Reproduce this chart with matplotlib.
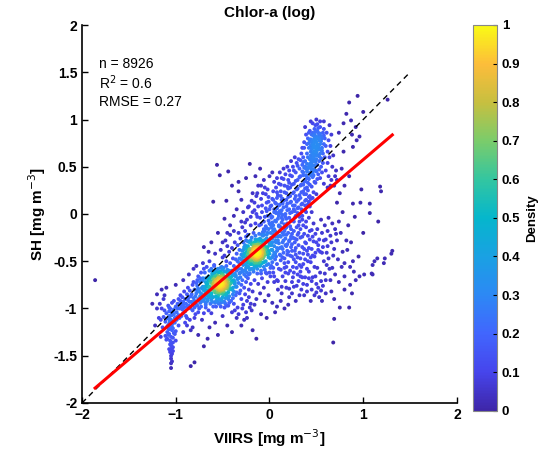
import numpy as np
import matplotlib
matplotlib.use('Agg')
import matplotlib.pyplot as plt
from matplotlib.colors import LinearSegmentedColormap
from matplotlib.ticker import FixedLocator, FixedFormatter

plt.rcParams['font.family'] = ['Liberation Sans', 'DejaVu Sans']

# --- matchups (hundredths of log10 mg m-3: VIIRS, SH) ---
streak = [(-107,-108),(-105,-112),(-110,-105),(-103,-115),(-108,-118),(-101,-110),(-112,-102),(-104,-120),(-106,-100),(-109,-125),
          (-102,-106),(-100,-98),(-111,-114),(-105,-130),(-107,-122),(-103,-103),(-98,-95),(-113,-109),(-106,-134),(-104,-117),
          (-108,-128),(-102,-92),(-105,-139),(-110,-111),(-107,-143),(-103,-121),(-99,-104),(-106,-146),(-104,-107),(-109,-119),
          (-101,-127),(-105,-150),(-108,-97),(-103,-136),(-106,-113),(-100,-124),(-111,-129),(-104,-141),(-107,-116),(-102,-101),
          (-105,-153),(-109,-132),(-106,-108),(-103,-145),(-108,-110),(-104,-156),(-107,-99),(-105,-137),(-102,-126),(-106,-118),
          (-110,-133),(-104,-148),(-107,-103),(-103,-141),(-105,-158),(-108,-121),(-106,-113),(-104,-105),(-105,-163),(-107,-127),
          (-103,-131),(-106,-115),(-104,-94),(-105,-144),(-106,-138),(-104,-123),(-97,-90),(-95,-86),(-96,-100),(-113,-90),
          (-115,-100),(-116,-112),(-114,-120),(-99,-112),(-97,-118),(-100,-134),(-117,-95),(-112,-86),(-94,-108),(-92,-96)]

lower_band = [(-98,-100),(-95,-96),(-92,-105),(-90,-90),(-88,-98),(-86,-88),(-85,-93),(-83,-85),(-82,-102),(-80,-80),
              (-79,-95),(-78,-84),(-77,-76),(-76,-90),(-75,-82),(-74,-72),(-73,-88),(-72,-79),(-71,-70),(-70,-92),
              (-69,-77),(-68,-68),(-67,-85),(-66,-74),(-65,-66),(-64,-80),(-63,-71),(-62,-88),(-61,-64),(-60,-76),
              (-96,-110),(-93,-88),(-91,-82),(-89,-108),(-87,-78),(-84,-100),(-81,-72),(-80,-92),(-78,-96),(-76,-66),
              (-74,-94),(-73,-62),(-71,-86),(-70,-58),(-68,-99),(-67,-73),(-66,-90),(-64,-60),(-63,-95),(-62,-84),
              (-95,-92),(-90,-115),(-85,-112),(-82,-75),(-79,-106),(-77,-70),(-75,-100),(-72,-78),(-69,-62),(-66,-83),
              (-88,-118),(-84,-123),(-80,-110),(-76,-104),(-73,-98),(-70,-105),(-68,-96),(-65,-102),(-62,-91),(-60,-98),
              (-92,-70),(-86,-64),(-81,-58),(-78,-55),(-74,-68),(-71,-52),(-67,-56),(-64,-50),(-61,-60),(-59,-54)]

core_a = [(-53,-73),(-51,-75),(-55,-71),(-50,-70),(-56,-76),(-52,-78),(-49,-73),(-54,-68),(-57,-72),(-48,-77),
          (-53,-80),(-51,-67),(-58,-78),(-47,-71),(-55,-82),(-50,-64),(-60,-74),(-46,-75),(-54,-85),(-52,-62),
          (-59,-69),(-45,-79),(-56,-65),(-49,-82),(-61,-80),(-44,-70),(-57,-87),(-48,-66),(-62,-73),(-43,-76),
          (-53,-90),(-50,-59),(-63,-84),(-42,-68),(-58,-61),(-46,-86),(-64,-77),(-41,-73),(-55,-58),(-47,-89),
          (-65,-70),(-40,-64),(-60,-88),(-44,-83),(-66,-82),(-39,-78),(-52,-94),(-51,-56),(-67,-75),(-38,-70),
          (-54,-74),(-52,-72),(-50,-76),(-56,-74),(-51,-79),(-53,-69),(-49,-71),(-55,-77),(-52,-81),(-48,-74),
          (-57,-70),(-50,-80),(-54,-66),(-46,-78),(-58,-75),(-51,-63),(-47,-68),(-56,-83),(-53,-77),(-49,-85),
          (-59,-81),(-45,-72),(-55,-62),(-50,-88),(-61,-67),(-43,-80),(-57,-92),(-48,-61),(-62,-86),(-44,-66),
          (-69,-79),(-70,-86),(-68,-72),(-71,-68),(-72,-90),(-66,-92),(-37,-74),(-36,-66),(-38,-82),(-35,-60),
          (-53,-75),(-52,-74),(-54,-72),(-51,-73),(-55,-75),(-50,-74),(-53,-71),(-52,-76),(-54,-77),(-51,-70),
          (-56,-72),(-49,-76),(-53,-78),(-55,-68),(-50,-72),(-57,-76),(-48,-72),(-54,-80),(-52,-67),(-56,-79),
          (-47,-74),(-59,-72),(-51,-84),(-46,-69),(-58,-66),(-60,-77),(-45,-76),(-49,-66),(-55,-87),(-63,-79),
          (-42,-74),(-61,-63),(-47,-84),(-64,-88),(-41,-67),(-58,-94),(-45,-62),(-66,-68),(-40,-80),(-52,-98),
          (-62,-58),(-44,-90),(-67,-86),(-39,-71),(-59,-55),(-43,-60),(-68,-94),(-48,-93),(-57,-98),(-46,-97)]

core_a_inner = [(-52,-74),(-53,-74),(-51,-74),(-52,-73),(-52,-75),(-50,-73),(-54,-75),(-51,-72),(-53,-76),(-49,-74),
                (-55,-74),(-52,-71),(-52,-77),(-50,-76),(-54,-72),(-48,-73),(-56,-75),(-51,-78),(-53,-70),(-49,-71),
                (-55,-77),(-47,-75),(-57,-73),(-50,-79),(-54,-69),(-48,-70),(-56,-78),(-46,-72),(-58,-76),(-51,-69),
                (-53,-79),(-47,-78),(-57,-70),(-49,-80),(-55,-68),(-45,-74),(-59,-74),(-52,-81),(-52,-67),(-46,-77),
                (-58,-71),(-50,-68),(-54,-80),(-48,-79),(-56,-69),(-44,-73),(-60,-77),(-51,-65),(-53,-83),(-47,-67)]

halo_a = [(-79,-87),(-77,-81),(-75,-91),(-73,-84),(-71,-77),(-69,-89),(-67,-81),(-65,-87),(-63,-67),(-61,-93),
          (-59,-63),(-57,-59),(-55,-93),(-53,-61),(-51,-91),(-49,-57),(-47,-95),(-45,-59),(-43,-87),(-41,-61),
          (-39,-89),(-37,-63),(-35,-83),(-33,-73),(-31,-81),(-29,-61),(-78,-73),(-76,-79),(-74,-87),(-72,-71),
          (-70,-81),(-68,-83),(-66,-77),(-64,-69),(-62,-79),(-60,-69),(-58,-83),(-56,-89),(-54,-95),(-52,-57),
          (-50,-93),(-48,-99),(-46,-55),(-44,-97),(-42,-79),(-40,-71),(-38,-65),(-36,-77),(-34,-69),(-32,-63),
          (-81,-89),(-83,-93),(-85,-81),(-87,-91),(-89,-95),(-91,-99),(-93,-101),(-97,-107),(-99,-109),(-101,-115),
          (-84,-87),(-86,-97),(-88,-85),(-90,-103),(-92,-93),(-94,-99),(-80,-99),(-82,-95),(-77,-97),(-73,-93)]

mid_band = [(-40,-60),(-38,-55),(-36,-65),(-34,-50),(-33,-58),(-31,-62),(-30,-48),(-29,-70),(-28,-54),(-27,-45),
            (-26,-60),(-25,-66),(-24,-50),(-23,-42),(-22,-57),(-21,-63),(-20,-47),(-19,-53),(-18,-40),(-17,-58),
            (-42,-52),(-39,-47),(-37,-72),(-35,-42),(-33,-68),(-32,-38),(-30,-75),(-29,-44),(-27,-78),(-26,-36),
            (-25,-72),(-23,-34),(-22,-80),(-21,-38),(-20,-74),(-19,-32),(-18,-82),(-17,-46),(-16,-70),(-15,-52),
            (-44,-88),(-41,-92),(-38,-95),(-36,-86),(-34,-99),(-32,-84),(-30,-90),(-28,-96),(-26,-85),(-24,-92),
            (-22,-88),(-20,-95),(-37,-102),(-33,-106),(-29,-100),(-25,-104),(-21,-99),(-35,-110),(-27,-112),(-40,-104),
            (-46,-50),(-48,-44),(-43,-40),(-45,-34),(-40,-36),(-37,-30),(-34,-33),(-31,-26),(-28,-30),(-25,-24),
            (-50,-46),(-52,-38),(-47,-28),(-42,-22),(-38,-18),(-33,-20),(-29,-14),(-26,-18),(-23,-22),(-20,-12),
            (-36,-48),(-32,-52),(-28,-60),(-24,-56),(-31,-67),(-27,-64),(-23,-68),(-35,-77),(-39,-85),(-43,-94)]

core_b = [(-13,-41),(-12,-43),(-14,-39),(-11,-40),(-15,-44),(-13,-37),(-10,-42),(-16,-41),(-12,-46),(-14,-35),
          (-11,-36),(-9,-44),(-17,-38),(-13,-48),(-15,-33),(-8,-40),(-18,-45),(-10,-50),(-16,-30),(-7,-36),
          (-19,-42),(-12,-52),(-14,-29),(-6,-45),(-20,-48),(-9,-32),(-17,-53),(-5,-38),(-21,-37),(-11,-28),
          (-13,-41),(-12,-39),(-14,-42),(-11,-44),(-15,-40),(-10,-38),(-13,-45),(-16,-37),(-12,-35),(-14,-47),
          (-9,-41),(-17,-43),(-11,-48),(-15,-35),(-8,-43),(-18,-40),(-10,-34),(-16,-48),(-7,-39),(-19,-46),
          (-12,-31),(-14,-51),(-6,-42),(-20,-41),(-9,-47),(-17,-33),(-5,-34),(-21,-50),(-11,-54),(-15,-27),
          (-4,-30),(-22,-44),(-8,-52),(-18,-31),(-3,-41),(-23,-55),(-10,-26),(-16,-56),(-2,-35),(-24,-38),
          (-7,-28),(-19,-58),(-1,-46),(-25,-49),(-6,-22),(-20,-28),(0,-32),(-26,-60),(-4,-50),(-13,-58),
          (1,-26),(-2,-20),(3,-30),(2,-38),(-1,-16),(4,-22),(5,-34),(0,-42),(6,-18),(-3,-26),
          (7,-28),(2,-14),(-5,-18),(8,-36),(3,-46),(-8,-22),(9,-24),(-9,-60),(-6,-56),(-3,-54),
          (-27,-42),(-29,-52),(-23,-47),(-26,-33),(-24,-62),(-28,-38),(-22,-64),(-30,-58),(-21,-30),(-25,-28),
          (-13,-42),(-12,-40),(-14,-40),(-12,-42),(-13,-39),(-11,-41),(-15,-42),(-13,-44),(-12,-38),(-14,-44),
          (-10,-40),(-16,-39),(-11,-45),(-15,-37),(-13,-36),(-11,-37),(-16,-44),(-9,-38),(-17,-40),(-14,-46)]

core_b_inner = [(-13,-41),(-12,-41),(-14,-41),(-13,-40),(-13,-42),(-11,-42),(-15,-40),(-12,-39),(-14,-43),(-10,-41),
                (-16,-41),(-13,-38),(-13,-44),(-11,-39),(-15,-43),(-9,-40),(-17,-42),(-12,-45),(-14,-37),(-10,-44),
                (-16,-38),(-8,-42),(-18,-40),(-11,-36),(-15,-46),(-9,-37),(-17,-45),(-12,-35),(-14,-47),(-7,-39),
                (-19,-43),(-10,-47),(-16,-35),(-8,-45),(-18,-37),(-13,-49),(-13,-33),(-6,-41),(-20,-41),(-11,-33)]

halo_b = [(-27,-49),(-25,-41),(-23,-51),(-21,-45),(-19,-49),(-17,-35),(-15,-49),(-13,-33),(-11,-51),(-9,-35),
          (-7,-47),(-5,-43),(-3,-37),(-1,-39),(1,-33),(-26,-53),(-24,-45),(-22,-39),(-20,-53),(-18,-37),
          (-16,-51),(-14,-55),(-12,-27),(-10,-55),(-8,-29),(-6,-51),(-4,-27),(-2,-43),(0,-29),(2,-25),
          (-28,-45),(-30,-43),(-32,-47),(-25,-57),(-21,-59),(-17,-61),(-13,-63),(-9,-63),(-5,-59),(-1,-53),
          (-19,-25),(-15,-23),(-11,-21),(-7,-19),(-3,-15),(1,-11),(4,-17),(-23,-29),(-27,-35),(-29,-39)]

upper_band = [(0,-10),(2,-4),(4,-12),(5,2),(7,-8),(8,6),(10,-2),(11,10),(12,-14),(13,4),
              (14,-6),(15,14),(16,-18),(17,0),(18,8),(19,-10),(20,18),(21,-4),(22,12),(23,-16),
              (24,2),(25,22),(26,-8),(27,16),(28,-2),(29,26),(30,6),(31,-12),(32,20),(33,30),
              (34,10),(35,-6),(36,24),(37,34),(38,14),(39,2),(40,28),(41,38),(42,18),(43,8),
              (-2,-2),(-4,6),(-6,-8),(-3,12),(-1,18),(1,8),(3,16),(4,24),(6,12),(7,28),
              (9,20),(10,32),(12,24),(13,38),(14,16),(16,30),(17,42),(18,22),(20,36),(21,46),
              (22,28),(24,40),(25,50),(26,32),(28,44),(29,54),(30,36),(32,48),(33,40),(35,52),
              (36,44),(38,56),(39,48),(41,60),(42,50),(44,62),(45,54),(46,44),(47,66),(48,58),
              (1,-20),(3,-26),(5,-16),(6,-24),(8,-20),(9,-28),(11,-18),(12,-24),(14,-30),(15,-22),
              (17,-26),(18,-34),(20,-20),(21,-28),(23,-24),(24,-32),(26,-18),(27,-26),(29,-14),(30,-22),
              (32,-8),(33,-16),(35,-2),(36,-12),(38,4),(39,-8),(41,10),(42,-4),(44,16),(45,2),
              (-8,2),(-10,-4),(-12,8),(-9,16),(-7,22),(-5,28),(-11,-12),(-14,0),(-6,-16),(-3,-22),
              (31,58),(34,64),(27,60),(37,70),(23,56),(19,50),(15,48),(11,44),(8,38),(5,34),
              (-2,26),(-6,36),(0,40),(3,44),(-9,30),(-13,22),(-16,12),(-18,2),(-15,-10),(-17,-20),
              (-1,-7),(1,-1),(3,-9),(5,5),(7,1),(9,-5),(11,3),(13,-9),(15,7),(17,-3),(19,11),(21,5),(23,-7),(25,9),(27,3),
              (29,13),(31,7),(33,17),(35,11),(37,21),(39,15),(41,25),(43,19),(45,29),(47,23),(2,9),(4,15),(6,3),(8,17),(10,9),
              (12,19),(14,11),(16,23),(18,15),(20,27),(22,19),(24,31),(26,23),(28,35),(30,27),(32,39),(34,31),(36,41),(38,35),(40,45),
              (42,37),(44,49),(46,39),(48,51),(50,45),(-3,3),(-5,-3),(0,5),(2,-11),(6,-7),(10,-13),(14,-1),(18,-5),(22,1),(26,5),
              (30,1),(34,5),(38,9),(42,13),(46,17),(50,21),(49,33),(47,41),(45,47),(43,43)]

band_extra = [(3,-3),(7,11),(12,1),(16,-11),(19,4),(23,13),(27,-4),(31,15),(34,23),(38,27),
              (41,33),(44,41),(12,31),(15,37),(19,29),(22,41),(26,46),(30,51),(33,57),(37,49),
              (-4,-13),(-1,13),(4,-18),(8,23),(11,-23),(13,15),(17,-15),(21,33),(24,-21),(28,19),
              (32,-3),(36,31),(39,21),(43,31),(46,51),(9,1),(13,-4),(18,-22),(22,-13),(27,9),
              (-7,-23),(-2,-28),(2,-33),(6,-29),(10,-31),(14,-37),(19,-43),(24,-39),(28,-43),(33,-47),
              (37,-37),(41,-43),(45,-37),(49,-41),(53,-27),(57,-35),(61,-41),(65,-23),(69,-37),(71,-21),
              (4,-44),(8,-39),(12,-49),(16,-57),(20,-63),(25,-67),(29,-57),(33,-61),(38,-67),(42,-61),
              (46,-67),(51,-57),(55,-71),(59,-63),(63,-47),(67,-57),(-3,-63),(1,-57),(5,-66),(9,-71),
              (13,-77),(17,-71),(21,-79),(26,-77),(31,-71),(35,-67),(40,-75),(45,-71),(50,-83),(55,-81),
              (-9,-11),(-13,-3),(-16,4),(-20,-3),(-23,7),(-26,-9),(-19,14),(-14,19),(-8,9),(-4,21),
              (35,45),(39,41),(43,53),(47,47),(51,37),(53,47),(55,59),(44,57),(40,53),(36,55)]

top_cluster = [(50,76),(48,80),(52,72),(47,70),(53,84),(49,66),(51,88),(46,78),(54,74),(45,84),
               (55,68),(44,72),(56,80),(48,90),(52,62),(43,78),(57,86),(50,58),(46,64),(58,74),
               (42,86),(54,92),(49,70),(51,80),(47,74),(53,78),(50,68),(48,84),(52,86),(45,76),
               (55,82),(44,66),(56,70),(43,88),(57,64),(49,94),(58,90),(42,70),(59,80),(41,80),
               (60,72),(40,74),(61,86),(46,96),(54,98),(40,64),(62,66),(50,100),(39,84),(63,78),
               (47,56),(53,56),(45,52),(55,50),(43,58),(57,54),(41,48),(59,60),(49,46),(51,52),
               (44,44),(56,44),(38,50),(62,54),(46,40),(54,38),(48,34),(52,42),(40,38),(60,46),
               (36,60),(64,60),(35,70),(65,72),(37,76),(66,84),(38,92),(64,94),(58,98),(44,98),
               (50,62),(48,72),(52,68),(46,86),(54,64),(47,60),(53,70),(51,74),(49,78),(50,82),
               (67,50),(68,62),(70,40),(66,36),(69,30),(71,46),(63,40),(65,30),(62,28),(58,32),
               (48,77),(51,71),(53,81),(47,83),(49,87),(55,77),(45,69),(52,91),(50,65),(46,73),
               (54,85),(56,67),(44,79),(58,83),(42,75),(51,95),(47,63),(53,61),(49,55),(45,59)]

below_line = [(2,-55),(4,-62),(6,-48),(8,-70),(10,-58),(12,-44),(14,-66),(16,-52),(18,-78),(20,-40),
              (22,-60),(24,-72),(26,-48),(28,-36),(30,-64),(32,-54),(34,-80),(36,-42),(38,-30),(40,-58),
              (42,-68),(44,-46),(46,-24),(48,-56),(50,-74),(52,-38),(54,-62),(56,-20),(58,-50),(60,-70),
              (62,-34),(64,-58),(66,-82),(68,-44),(70,-64),(72,-28),(5,-72),(9,-80),(13,-84),(17,-62),
              (21,-88),(25,-56),(29,-76),(33,-66),(37,-86),(41,-50),(45,-80),(49,-66),(53,-88),(57,-76),
              (61,-54),(65,-70),(69,-90),(3,-38),(7,-30),(11,-36),(15,-28),(19,-32),(23,-26),(27,-30),
              (31,-20),(35,-24),(39,-14),(43,-18),(47,-10),(51,-16),(55,-6),(59,-12),(63,-4),(67,-10),
              (1,-66),(-2,-72),(-4,-62),(-6,-78),(-8,-68),(-10,-84),(-12,-74),(-14,-90),(-5,-92),(-1,-86),
              (3,-94),(8,-98),(-16,-96),(-19,-102),(-9,-106),(-3,-110),(6,-104),(12,-92),(16,-100),(20,-96),
              (24,-84),(28,-92),(32,-86),(36,-74),(40,-82),(44,-92),(48,-86),(52,-78),(56,-92),(60,-84),
              (14,-46),(18,-56),(22,-44),(26,-62),(30,-46),(34,-56),(38,-48),(42,-36),(46,-44),(50,-30),
              (54,-40),(58,-28),(62,-18),(66,-30),(70,-16),(10,-12),(14,-20),(18,-14),(6,-42),(0,-62),
              (1,-47),(3,-51),(5,-41),(7,-45),(9,-37),(11,-43),(13,-35),(15,-41),(17,-33),(19,-39),(21,-29),(23,-35),(25,-25),(27,-39),(29,-27),
              (31,-33),(33,-25),(35,-35),(37,-21),(39,-31),(41,-23),(43,-27),(45,-17),(47,-29),(49,-21),(4,-57),(8,-53),(12,-59),(16,-47),(20,-51),
              (24,-45),(28,-51),(32,-41),(36,-53),(40,-39),(44,-51),(48,-45),(52,-33),(56,-41),(60,-27)]

far_right = [(116,-8),(107,1),(118,29),(119,24),(107,11),(100,-20),(110,-54),(112,-50),(123,-47),(109,-63),
             (96,-66),(101,-64),(86,-75),(86,-56),(89,-50),(80,-66),(90,-61),(80,-52),(98,26),(91,-3),
             (89,11),(93,78),(89,71),(79,66),(97,12),(115,-47),(122,-52),(110,-64),(75,-99),(85,-99),
             (69,-111),(68,-136),(130,-42),(131,-39),(95,-45),(78,-40),(82,-28),(76,-20),(84,-12),(78,2),
             (74,-8),(80,-80),(74,-72),(88,-84),(92,-70),(77,-56),(73,-48),(83,-38),(87,-30),(72,12),
             (75,22),(80,30),(85,40),(77,48),(72,36),
             (85,118),(94,125),(82,106),(87,99),(126,121),(100,108),(92,92),(79,96),(74,86),(88,84),(96,82)]

upper_left = [(-56,52),(-21,53),(-44,45),(-60,13),(-33,34),(-53,41),(-30,15),(-40,30),(-25,38),(-15,40),
              (-35,5),(-48,-5),(-42,-12),(-55,-20),(-62,-30),(-38,-2),(-28,2),(-22,8),(-18,22),(-12,30),
              (-46,14),(-65,-40),(-70,-35),(-58,-42),(-50,-30),(-45,-20),(-30,-8),(-24,-6),(-33,24),(-10,48)]

lower_left = [(-84,-161),(-80,-157),(-70,-140),(-82,-120),(-76,-128),(-88,-110),(-92,-125),(-64,-120),(-58,-115),(-50,-108),
              (-62,-105),(-55,-128),(-45,-118),(-66,-132),(-72,-112),(-18,-123),(-14,-132),(-30,-118),(-24,-110),(-40,-125),
              (-120,-100),(-118,-110),(-125,-95),(-122,-118),(-116,-130),(-120,-85),(-115,-80),(-110,-78),(-100,-75),(-186,-70)]

# regression fit and 1:1 line, from the figure
fit_slope = 0.845
fit_icpt = -0.27
one_to_one = [-2.0, 1.5]
stats = ['n = 8926', 'R$^2$ = 0.6', 'RMSE = 0.27']

pts = np.array(streak + lower_band + core_a + core_a_inner + halo_a + mid_band + core_b + core_b_inner +
               halo_b + upper_band + band_extra + top_cluster + below_line + far_right + upper_left +
               lower_left, dtype=float) / 100.0
x, y = pts[:, 0], pts[:, 1]

# point density (gaussian kernel), scaled to 0-1
d2 = (x[:, None] - x[None, :]) ** 2 + (y[:, None] - y[None, :]) ** 2
dens = np.exp(-d2 / (2 * 0.07 ** 2)).sum(axis=1)
dens = (dens - dens.min()) / (dens.max() - dens.min())
order = np.argsort(dens)

parula = LinearSegmentedColormap.from_list('parula', [
    (0.243, 0.150, 0.660), (0.275, 0.270, 0.925), (0.255, 0.400, 0.995),
    (0.175, 0.535, 0.960), (0.100, 0.630, 0.890), (0.020, 0.715, 0.800),
    (0.200, 0.775, 0.630), (0.480, 0.800, 0.420), (0.780, 0.750, 0.250),
    (0.990, 0.740, 0.230), (0.977, 0.984, 0.081)])

fig = plt.figure(figsize=(5.38, 4.53), dpi=100)
ax = fig.add_axes([0.1524, 0.1104, 0.697, 0.8344])

sc = ax.scatter(x[order], y[order], c=dens[order], cmap=parula, vmin=0, vmax=1,
                s=8, linewidths=0)
ax.plot(one_to_one, one_to_one, color='black', lw=1, dashes=(4, 3))
xf = np.array([x.min(), x.max()])
ax.plot(xf, fit_slope * xf + fit_icpt, color='red', lw=2.2)

for i, s in enumerate(stats):
    ax.text(-1.82, 1.59 - i * 0.2, s, fontsize=10, va='center', ha='left')

ax.set_xlim(-2, 2)
ax.set_ylim(-2, 2)
ax.set_xticks([-2, -1, 0, 1, 2])
ax.set_yticks(np.arange(-2, 2.01, 0.5))
ax.set_yticklabels(['-2', '-1.5', '-1', '-0.5', '0', '0.5', '1', '1.5', '2'])
ax.tick_params(direction='in', length=4, width=1, labelsize=10)
for lab in ax.get_xticklabels() + ax.get_yticklabels():
    lab.set_fontweight('bold')
ax.spines['top'].set_visible(False)
ax.spines['right'].set_visible(False)
for sp in ['left', 'bottom']:
    ax.spines[sp].set_linewidth(1.2)
ax.set_xlabel('VIIRS [mg m$^{-3}$]', fontsize=11, fontweight='bold')
ax.set_ylabel('SH [mg m$^{-3}$]', fontsize=11, fontweight='bold')
ax.set_title('Chlor-a (log)', fontsize=11, fontweight='bold', pad=6)

cax = fig.add_axes([0.879, 0.093, 0.045, 0.852])
cb = fig.colorbar(sc, cax=cax)
cb.outline.set_edgecolor('#888888')
cb.outline.set_linewidth(0.8)
cticks = np.round(np.arange(0, 1.01, 0.1), 1)
cb.ax.yaxis.set_major_locator(FixedLocator(cticks))
cb.ax.yaxis.set_major_formatter(FixedFormatter(['0', '0.1', '0.2', '0.3', '0.4', '0.5',
                                                '0.6', '0.7', '0.8', '0.9', '1']))
cb.ax.tick_params(direction='in', length=3, width=0.8, labelsize=9.5)
for lab in cb.ax.get_yticklabels():
    lab.set_fontweight('bold')
cb.set_label('Density', fontsize=9.5, fontweight='bold')

fig.savefig('out.png', dpi=100)
